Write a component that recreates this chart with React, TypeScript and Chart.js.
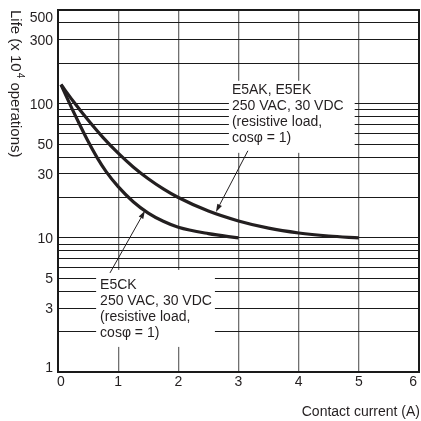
import React, { useEffect, useRef } from "react";
import { Chart, registerables } from "chart.js";

Chart.register(...registerables);

// Data
const xUpper = [0.05, 0.25, 0.5, 0.75, 1, 1.25, 1.5, 1.75, 2, 2.5, 3, 3.5, 4, 4.5, 5];
const lifeUpper = [139, 104.9, 75.6, 55.9, 42.8, 33.8, 27.6, 23.2, 20, 15.85, 13.37, 11.81, 10.88, 10.33, 10];
const xLower = [0.05, 0.15, 0.25, 0.35, 0.5, 0.65, 0.8, 1, 1.25, 1.5, 1.75, 2, 2.5, 3];
const lifeLower = [139, 110.5, 88.5, 71.5, 52.5, 39.7, 31.2, 24.1, 18.6, 15.3, 13.3, 12, 10.75, 10];

const xTickLabels = [0, 1, 2, 3, 4, 5, 6];
const yTickLabels = [1, 3, 5, 10, 30, 50, 100, 300, 500];
const yGridValues = [
  1, 2, 3, 4, 5, 6, 7, 8, 9, 10, 20, 30, 40, 50, 60, 70, 80, 90, 100, 200, 300, 400, 500,
];

const upperLabel = ["E5AK, E5EK", "250 VAC, 30 VDC", "(resistive load,", "cosφ = 1)"];
const lowerLabel = ["E5CK", "250 VAC, 30 VDC", "(resistive load,", "cosφ = 1)"];

const xTitle = "Contact current (A)";

const FONT = '"Liberation Sans", Arial, Helvetica, sans-serif';
const INK = "#231f20";

const annotations = [
  {
    lines: upperLabel,
    x: 2.89,
    y: 127,
    pad: [3, 11, 9, 15],
    from: [3.156, 44.6],
    to: [2.625, 15.6],
  },
  {
    lines: lowerLabel,
    x: 0.7,
    y: 4.46,
    pad: [4, 3, 15, 14],
    from: [0.864, 5.48],
    to: [1.445, 15.9],
  },
];

const decorPlugin = {
  id: "decor",
  beforeDatasetsDraw(chart: any) {
    const ctx = chart.ctx;
    const xs = chart.scales.x;
    const ys = chart.scales.y;
    ctx.save();
    ctx.font = "14px " + FONT;
    ctx.textBaseline = "middle";
    ctx.textAlign = "left";
    const lineH = 16;
    for (const a of annotations) {
      const tx = xs.getPixelForValue(a.x);
      const ty = ys.getPixelForValue(a.y);
      let w = 0;
      for (const l of a.lines) w = Math.max(w, ctx.measureText(l).width);
      const left = tx - a.pad[0];
      const right = tx + w + a.pad[1];
      const top = ty - a.pad[2];
      const bottom = ty + (a.lines.length - 1) * lineH + a.pad[3];
      ctx.fillStyle = "#ffffff";
      ctx.fillRect(left, top, right - left, bottom - top);
      ctx.fillStyle = INK;
      a.lines.forEach((l, i) => ctx.fillText(l, tx, ty + i * lineH));
    }
    ctx.restore();
  },
  afterDatasetsDraw(chart: any) {
    const ctx = chart.ctx;
    const xs = chart.scales.x;
    const ys = chart.scales.y;
    const area = chart.chartArea;
    ctx.save();
    // arrows
    ctx.strokeStyle = INK;
    ctx.fillStyle = INK;
    ctx.lineWidth = 1;
    for (const a of annotations) {
      const x1 = xs.getPixelForValue(a.from[0]);
      const y1 = ys.getPixelForValue(a.from[1]);
      const x2 = xs.getPixelForValue(a.to[0]);
      const y2 = ys.getPixelForValue(a.to[1]);
      const ang = Math.atan2(y2 - y1, x2 - x1);
      const L = 8;
      const hw = 2.6;
      const bx = x2 - L * Math.cos(ang);
      const by = y2 - L * Math.sin(ang);
      ctx.beginPath();
      ctx.moveTo(x1, y1);
      ctx.lineTo(bx, by);
      ctx.stroke();
      ctx.beginPath();
      ctx.moveTo(x2, y2);
      ctx.lineTo(bx + hw * Math.sin(ang), by - hw * Math.cos(ang));
      ctx.lineTo(bx - hw * Math.sin(ang), by + hw * Math.cos(ang));
      ctx.closePath();
      ctx.fill();
    }
    // frame
    ctx.strokeStyle = "#1a1a1a";
    ctx.lineWidth = 2;
    ctx.strokeRect(area.left, area.top, area.right - area.left, area.bottom - area.top);

    // tick labels
    ctx.fillStyle = INK;
    ctx.font = "14px " + FONT;
    ctx.textBaseline = "middle";
    ctx.textAlign = "right";
    for (const v of yTickLabels) {
      let py = ys.getPixelForValue(v);
      py = Math.min(Math.max(py, area.top + 7), area.bottom - 5);
      ctx.fillText(String(v), area.left - 5, py + 1);
    }
    ctx.textAlign = "center";
    for (const v of xTickLabels) {
      const s = String(v);
      const w = ctx.measureText(s).width;
      let px = xs.getPixelForValue(v);
      px = Math.min(Math.max(px, area.left + w / 2 - 1), area.right - w / 2 - 2);
      ctx.fillText(s, px, area.bottom + 10);
    }
    // x title
    ctx.textAlign = "right";
    ctx.fillText(xTitle, 420, area.bottom + 40);

    // y title (rotated clockwise)
    ctx.translate(11, area.top);
    ctx.rotate(Math.PI / 2);
    ctx.textAlign = "left";
    ctx.textBaseline = "alphabetic";
    ctx.font = "15px " + FONT;
    const p1 = "Life (x 10";
    ctx.fillText(p1, 0, 0);
    let off = ctx.measureText(p1).width;
    ctx.font = "10px " + FONT;
    ctx.fillText("4", off + 1, -6);
    off += ctx.measureText("4").width + 1;
    ctx.font = "15px " + FONT;
    ctx.fillText(" operations)", off, 0);
    ctx.restore();
  },
};

export default function App() {
  const ref = useRef<HTMLCanvasElement | null>(null);
  useEffect(() => {
    if (!ref.current) return;
    const chart = new Chart(ref.current, {
      type: "line",
      data: {
        datasets: [
          {
            label: "E5AK, E5EK",
            data: xUpper.map((x, i) => ({ x, y: lifeUpper[i] })),
            borderColor: INK,
            borderWidth: 3.2,
            pointRadius: 0,
            cubicInterpolationMode: "monotone",
            fill: false,
          },
          {
            label: "E5CK",
            data: xLower.map((x, i) => ({ x, y: lifeLower[i] })),
            borderColor: INK,
            borderWidth: 3.2,
            pointRadius: 0,
            cubicInterpolationMode: "monotone",
            fill: false,
          },
        ],
      },
      options: {
        responsive: false,
        animation: false,
        events: [],
        layout: { padding: { top: 10, right: 2, left: 0, bottom: 0 } },
        plugins: { legend: { display: false }, tooltip: { enabled: false }, title: { display: false } },
        scales: {
          x: {
            type: "linear",
            min: 0,
            max: 6,
            ticks: { stepSize: 1, display: false },
            grid: { color: "#707070", lineWidth: 1.3, drawTicks: false },
            border: { display: false },
            afterFit: (s: any) => {
              s.height = 49;
            },
          },
          y: {
            type: "logarithmic",
            min: 1,
            max: 500,
            ticks: { display: false, autoSkip: false },
            grid: { color: "#1a1a1a", lineWidth: 1, drawTicks: false },
            border: { display: false },
            afterBuildTicks: (s: any) => {
              s.ticks = yGridValues.map((v) => ({ value: v }));
            },
            afterFit: (s: any) => {
              s.width = 58;
            },
          },
        },
      },
      plugins: [decorPlugin],
    } as any);
    return () => chart.destroy();
  }, []);
  return (
    <div style={{ position: "absolute", left: 0, top: 0, width: 421, height: 421, background: "#fff" }}>
      <canvas ref={ref} width={421} height={421} style={{ display: "block" }} />
    </div>
  );
}
